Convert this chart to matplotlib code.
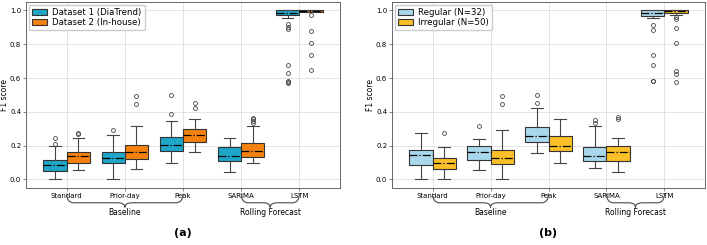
import numpy as np
import matplotlib.pyplot as plt
from matplotlib.path import Path
from matplotlib.patches import PathPatch
import matplotlib.transforms as mtransforms

categories = ["Standard", "Prior-day", "Peak", "SARIMA", "LSTM"]

# panel (a): per category -> (q1, median, q3, whisker low, whisker high, fliers)
dataset1 = [
    (0.050, 0.088, 0.115, 0.003, 0.195, [0.21, 0.245]),
    (0.095, 0.125, 0.165, 0.003, 0.265, [0.29]),
    (0.170, 0.205, 0.250, 0.100, 0.345, [0.39, 0.50]),
    (0.110, 0.140, 0.190, 0.045, 0.245, []),
    (0.970, 0.985, 1.000, 0.955, 1.000, [0.92, 0.90, 0.89, 0.68, 0.63, 0.585, 0.578, 0.572]),
]
dataset2 = [
    (0.100, 0.140, 0.165, 0.055, 0.245, [0.27, 0.277]),
    (0.120, 0.165, 0.205, 0.060, 0.315, [0.445, 0.495]),
    (0.220, 0.262, 0.300, 0.160, 0.360, [0.42, 0.45]),
    (0.135, 0.170, 0.215, 0.100, 0.315, [0.335, 0.345, 0.355, 0.365]),
    (0.990, 0.996, 1.000, 0.988, 1.000, [0.975, 0.88, 0.805, 0.735, 0.65]),
]
# panel (b)
regular = [
    (0.085, 0.145, 0.175, 0.000, 0.275, []),
    (0.115, 0.165, 0.195, 0.055, 0.240, [0.315]),
    (0.220, 0.260, 0.310, 0.155, 0.420, [0.45, 0.50]),
    (0.110, 0.140, 0.190, 0.070, 0.315, [0.335, 0.35]),
    (0.965, 0.985, 1.000, 0.955, 1.000, [0.915, 0.885, 0.735, 0.68, 0.585, 0.58]),
]
irregular = [
    (0.060, 0.095, 0.125, 0.000, 0.190, [0.275]),
    (0.090, 0.125, 0.175, 0.000, 0.290, [0.445, 0.495]),
    (0.170, 0.200, 0.255, 0.100, 0.355, []),
    (0.110, 0.160, 0.195, 0.045, 0.245, [0.355, 0.37]),
    (0.985, 0.995, 1.000, 0.975, 1.000, [0.96, 0.95, 0.895, 0.81, 0.64, 0.625, 0.575]),
]

groups = [("Baseline", 0, 2), ("Rolling Forecast", 3, 4)]


def to_stats(rows):
    out = []
    for q1, med, q3, lo, hi, fl in rows:
        out.append(dict(q1=q1, med=med, q3=q3, whislo=lo, whishi=hi, fliers=fl))
    return out


def brace(ax, x0, x1, ytop, ymid, ybot, r=0.12):
    xm = 0.5 * (x0 + x1)
    verts = [(x0, ytop), (x0, ymid), (x0 + r, ymid),
             (xm - r, ymid), (xm, ymid), (xm, ybot),
             (xm, ymid), (xm + r, ymid),
             (x1 - r, ymid), (x1, ymid), (x1, ytop)]
    codes = [Path.MOVETO, Path.CURVE3, Path.CURVE3,
             Path.LINETO, Path.CURVE3, Path.CURVE3,
             Path.CURVE3, Path.CURVE3,
             Path.LINETO, Path.CURVE3, Path.CURVE3]
    trans = mtransforms.blended_transform_factory(ax.transData, ax.transAxes)
    p = PathPatch(Path(verts, codes), fc="none", ec="#4a4a4a", lw=0.8,
                  transform=trans, clip_on=False)
    ax.add_patch(p)


def panel(ax, s1, s2, c1, c2, labels, letter):
    x = np.arange(len(categories))
    common = dict(widths=0.4, patch_artist=True, showfliers=True,
                  medianprops=dict(color="black", lw=0.9, ls="-."),
                  whiskerprops=dict(color="#444444", lw=0.8),
                  capprops=dict(color="#444444", lw=0.8),
                  flierprops=dict(marker="o", markersize=2.8, mfc="none",
                                  mec="#444444", mew=0.6))
    b1 = ax.bxp(to_stats(s1), positions=x - 0.2,
                boxprops=dict(facecolor=c1, edgecolor="#333333", lw=0.8), **common)
    b2 = ax.bxp(to_stats(s2), positions=x + 0.2,
                boxprops=dict(facecolor=c2, edgecolor="#333333", lw=0.8), **common)
    ax.set_xlim(-0.7, 4.7)
    ax.set_ylim(-0.05, 1.05)
    ax.set_xticks(x)
    ax.set_xticklabels(categories, fontsize=5)
    ax.set_yticks([0, 0.2, 0.4, 0.6, 0.8, 1.0])
    ax.set_yticklabels(["0.0", "0.2", "0.4", "0.6", "0.8", "1.0"], fontsize=5)
    ax.tick_params(length=2, width=0.5, color="#555555", pad=1.5)
    ax.set_ylabel("F1 score", fontsize=5.5, labelpad=1)
    ax.grid(True, color="#e3e3e3", lw=0.7)
    ax.set_axisbelow(True)
    for sp in ax.spines.values():
        sp.set_color("#666666")
        sp.set_linewidth(0.7)
    ax.legend([b1["boxes"][0], b2["boxes"][0]], labels, loc="upper left",
              fontsize=6.2, frameon=True, handlelength=1.8, handleheight=0.7,
              handletextpad=0.6, borderpad=0.35, labelspacing=0.2,
              borderaxespad=0.3, edgecolor="#cccccc", framealpha=1, fancybox=True)
    for name, g0, g1 in groups:
        brace(ax, g0, g1, -0.03, -0.08, -0.105)
        ax.text(0.5 * (g0 + g1), -0.13, name, fontsize=5.5, ha="center", va="center",
                transform=mtransforms.blended_transform_factory(ax.transData, ax.transAxes))
    ax.text(0.5, -0.24, letter, fontsize=8, fontweight="bold", ha="center",
            va="center", transform=ax.transAxes)


fig = plt.figure(figsize=(7.07, 2.45), dpi=100)
ax1 = fig.add_axes([0.0368, 0.233, 0.4441, 0.759])
ax2 = fig.add_axes([0.5545, 0.233, 0.4427, 0.759])

panel(ax1, dataset1, dataset2, "#1fa6c8", "#f5820f",
      ["Dataset 1 (DiaTrend)", "Dataset 2 (In-house)"], "(a)")
panel(ax2, regular, irregular, "#a9d8ec", "#fbbf2a",
      ["Regular (N=32)", "Irregular (N=50)"], "(b)")

fig.savefig("out.png", dpi=100)
